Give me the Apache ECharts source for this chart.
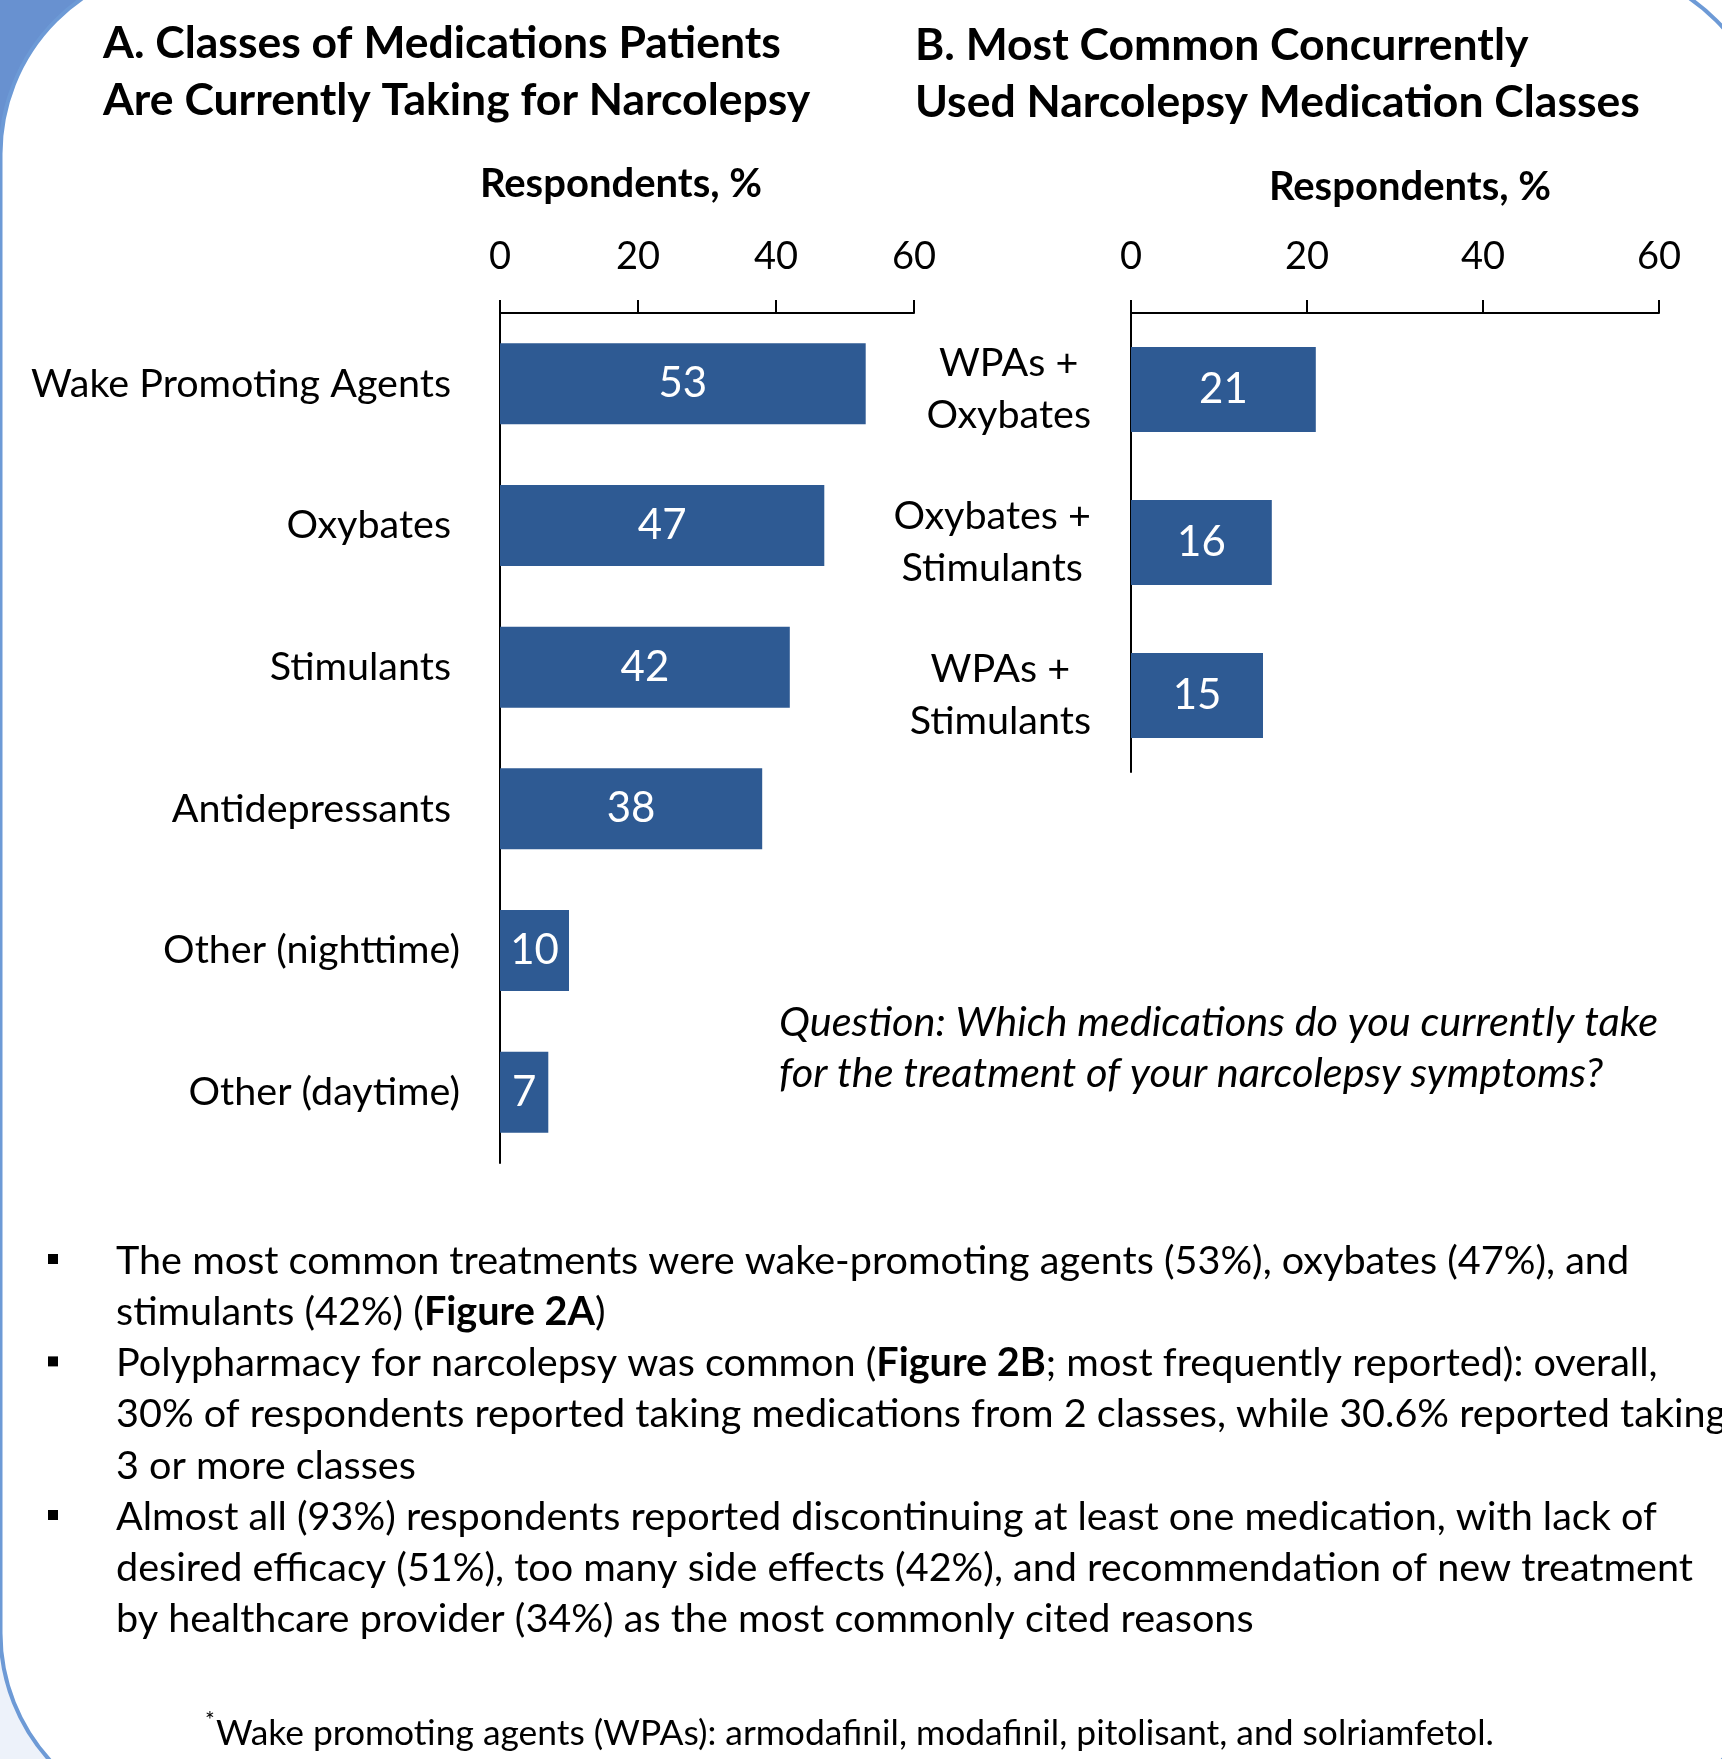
<!DOCTYPE html>
<html>
<head>
<meta charset="utf-8">
<title>Narcolepsy medication classes</title>
<script src="https://cdn.jsdelivr.net/npm/echarts/dist/echarts.min.js"></script>
<style>
  html, body { margin: 0; padding: 0; background: #ffffff; }
  #main { width: 1722px; height: 1759px; }
</style>
</head>
<body>
<div id="main"></div>
<script>
// Panel A: classes currently taken
const medClasses = ['Wake Promoting Agents', 'Oxybates', 'Stimulants', 'Antidepressants', 'Other (nighttime)', 'Other (daytime)'];
const medShare = [53, 47, 42, 38, 10, 7];

// Panel B: most common concurrent combinations
const comboClasses = ['WPAs +\nOxybates', 'Oxybates +\nStimulants', 'WPAs +\nStimulants'];
const comboShare = [21, 16, 15];

// Shared percentage axis ticks
const respondentTicks = [0, 20, 40, 60];

const FONT = 'Lato, "Open Sans", sans-serif';
const BAR = '#2e5a93';
const INK = '#000000';
const LABEL_SIZE = 39.5;

const chart = echarts.init(document.getElementById('main'), null, { renderer: 'canvas' });

function valueAxis(gridIndex) {
  return {
    gridIndex: gridIndex,
    type: 'value',
    position: 'top',
    min: respondentTicks[0],
    max: respondentTicks[respondentTicks.length - 1],
    interval: respondentTicks[1] - respondentTicks[0],
    axisLine: { show: true, lineStyle: { color: INK, width: 2 } },
    axisTick: { show: true, length: 13, lineStyle: { color: INK, width: 2 } },
    axisLabel: { fontSize: 38, color: INK, margin: 37, fontFamily: FONT },
    splitLine: { show: false }
  };
}

const bodyLines = [
  '{n|The most common treatments were wake-promoting agents (53%), oxybates (47%), and}',
  '{n|stimulants (42%) (}{b|Figure 2A}{n|)}',
  '{n|Polypharmacy for narcolepsy was common (}{b|Figure 2B}{n|; most frequently reported): overall,}',
  '{n|30% of respondents reported taking medications from 2 classes, while 30.6% reported taking}',
  '{n|3 or more classes}',
  '{n|Almost all (93%) respondents reported discontinuing at least one medication, with lack of}',
  '{n|desired efficacy (51%), too many side effects (42%), and recommendation of new treatment}',
  '{n|by healthcare provider (34%) as the most commonly cited reasons}'
];
const BODY_SIZE = 39.6;
const BODY_LH = 51.2;
const BODY_TOP = 1235.4;
const bulletRows = [0, 2, 5];

const graphics = [
  // poster backdrop: header tint top-left, pale tint bottom-left, then the rounded white panel
  { type: 'rect', z: -10, shape: { x: 0, y: 0, width: 260, height: 260 }, style: { fill: '#6891d0' } },
  { type: 'rect', z: -10, shape: { x: 0, y: 1560, width: 260, height: 199 }, style: { fill: '#edf2fa' } },
  { type: 'rect', z: -9, shape: { x: 0.5, y: -35, width: 1771, height: 1857, r: 189 },
    style: { fill: '#ffffff', stroke: '#6d9ad6', lineWidth: 4 } },

  // panel titles
  { type: 'text', x: 103, y: 15.5, style: {
      text: 'A. Classes of Medications Patients\nAre Currently Taking for Narcolepsy',
      fontFamily: FONT, fontWeight: 'bold', fontSize: 44.5, lineHeight: 57, fill: INK,
      align: 'left', verticalAlign: 'top' } },
  { type: 'text', x: 915, y: 17, style: {
      text: 'B. Most Common Concurrently\nUsed Narcolepsy Medication Classes',
      fontFamily: FONT, fontWeight: 'bold', fontSize: 44.5, lineHeight: 57, fill: INK,
      align: 'left', verticalAlign: 'top' } },

  // axis titles
  { type: 'text', x: 621, y: 184, style: {
      text: 'Respondents, %', fontFamily: FONT, fontWeight: 'bold', fontSize: 40, fill: INK,
      align: 'center', verticalAlign: 'middle' } },
  { type: 'text', x: 1410, y: 187, style: {
      text: 'Respondents, %', fontFamily: FONT, fontWeight: 'bold', fontSize: 40, fill: INK,
      align: 'center', verticalAlign: 'middle' } },

  // survey question
  { type: 'text', x: 779, y: 997.5, style: {
      text: 'Question: Which medications do you currently take\nfor the treatment of your narcolepsy symptoms?',
      fontFamily: FONT, fontStyle: 'italic', fontSize: 41.5, lineHeight: 51, fill: INK,
      align: 'left', verticalAlign: 'top' } },

  // key findings
  { type: 'text', x: 116, y: BODY_TOP, style: {
      text: bodyLines.join('\n'),
      fontFamily: FONT, fontSize: BODY_SIZE, lineHeight: BODY_LH, fill: INK,
      align: 'left', verticalAlign: 'top',
      rich: {
        n: { fontFamily: FONT, fontSize: BODY_SIZE, lineHeight: BODY_LH, fill: INK },
        b: { fontFamily: FONT, fontSize: BODY_SIZE, lineHeight: BODY_LH, fontWeight: 'bold', fill: INK }
      } } },

  // footnote
  { type: 'text', x: 205, y: 1721, style: {
      text: '*', fontFamily: FONT, fontSize: 23, fill: INK, align: 'left', verticalAlign: 'middle' } },
  { type: 'text', x: 216, y: 1734, style: {
      text: 'Wake promoting agents (WPAs): armodafinil, modafinil, pitolisant, and solriamfetol.',
      fontFamily: FONT, fontSize: 35.4, fill: INK, align: 'left', verticalAlign: 'middle' } }
];

bulletRows.forEach(function (row) {
  graphics.push({
    type: 'rect',
    shape: { x: 48, y: BODY_TOP + BODY_LH * (row + 0.5) - 7, width: 10, height: 10 },
    style: { fill: INK }
  });
});

const option = {
  animation: false,
  backgroundColor: '#ffffff',
  textStyle: { fontFamily: FONT },
  grid: [
    { left: 500, top: 313, width: 414, height: 850, containLabel: false },
    { left: 1131, top: 313, width: 528, height: 459, containLabel: false }
  ],
  xAxis: [valueAxis(0), valueAxis(1)],
  yAxis: [
    {
      gridIndex: 0,
      type: 'category',
      data: medClasses,
      inverse: true,
      axisLine: { show: true, lineStyle: { color: INK, width: 2 } },
      axisTick: { show: false },
      axisLabel: {
        margin: 40,
        fontSize: LABEL_SIZE,
        color: INK,
        fontFamily: FONT,
        formatter: function (v, i) { return i < 4 ? '{p|' + v + '}' : '{q|' + v + '}'; },
        rich: {
          p: { fontSize: LABEL_SIZE, fontFamily: FONT, color: INK, padding: [0, 9, 0, 0] },
          q: { fontSize: LABEL_SIZE, fontFamily: FONT, color: INK }
        }
      }
    },
    {
      gridIndex: 1,
      type: 'category',
      data: comboClasses,
      inverse: true,
      axisLine: { show: true, lineStyle: { color: INK, width: 2 } },
      axisTick: { show: false },
      axisLabel: {
        margin: 40,
        fontSize: LABEL_SIZE,
        color: INK,
        fontFamily: FONT,
        formatter: function (v) { return '{c|' + v + '}'; },
        rich: {
          c: { fontSize: LABEL_SIZE, fontFamily: FONT, color: INK, align: 'center', lineHeight: 52 }
        }
      }
    }
  ],
  series: [
    {
      type: 'bar',
      xAxisIndex: 0,
      yAxisIndex: 0,
      data: medShare,
      barWidth: 81,
      itemStyle: { color: BAR },
      label: { show: true, position: 'inside', color: '#ffffff', fontSize: 42, fontFamily: FONT }
    },
    {
      type: 'bar',
      xAxisIndex: 1,
      yAxisIndex: 1,
      data: comboShare,
      barWidth: 85,
      itemStyle: { color: BAR },
      label: { show: true, position: 'inside', color: '#ffffff', fontSize: 42, fontFamily: FONT }
    }
  ],
  graphic: graphics
};

chart.setOption(option);
</script>
</body>
</html>
